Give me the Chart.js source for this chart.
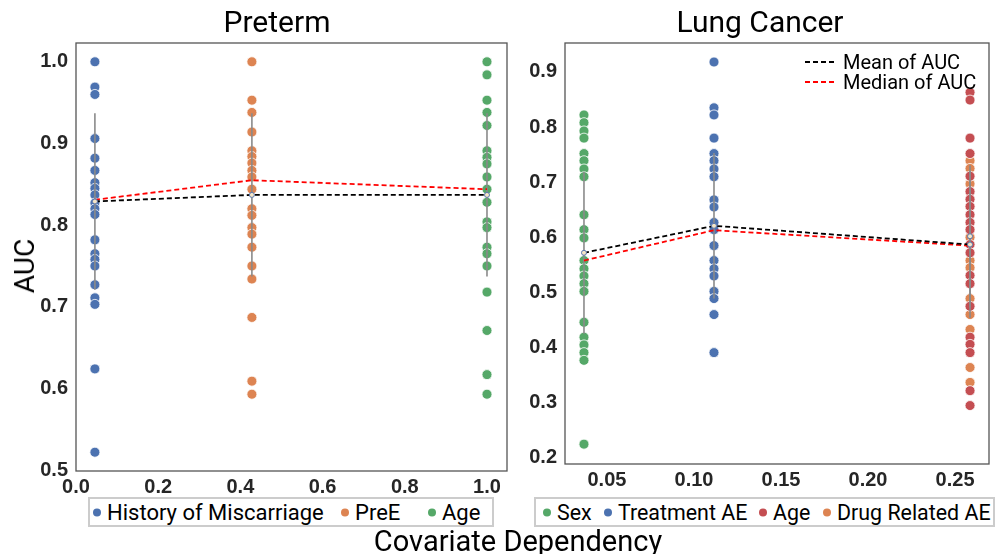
<!DOCTYPE html>
<html>
<head>
<meta charset="utf-8">
<script src="https://cdn.jsdelivr.net/npm/chart.js@4.4.1/dist/chart.umd.min.js"></script>
<style>
  html, body { margin: 0; padding: 0; background: #fff; }
  #wrap { position: relative; width: 997px; height: 554px; overflow: hidden; font-family: Roboto, sans-serif; color: #000; }
  canvas { position: absolute; top: 0; }
  .txt { position: absolute; line-height: 1; white-space: nowrap; }
  .legend { position: absolute; border: 2px solid #cccccc; box-sizing: border-box; font-size: 22px; height: 30px; background: #fff; }
  .legend .item { position: absolute; top: 50%; transform: translateY(-50%); display: flex; align-items: center; white-space: nowrap; }
  .dot { width: 8px; height: 8px; border-radius: 50%; margin-right: 6px; display: inline-block; }
  #legendPreterm .item:nth-child(1) { left: 3px; }
  #legendPreterm .item:nth-child(2) { left: 251px; }
  #legendPreterm .item:nth-child(3) { left: 338px; }
  #legendLung { font-size: 21.4px; }
  #legendLung .item:nth-child(1) { left: 7px; }
  #legendLung .item:nth-child(2) { left: 68px; }
  #legendLung .item:nth-child(3) { left: 223px; }
  #legendLung .item:nth-child(4) { left: 287px; }
  .statkey { position: absolute; font-size: 20px; line-height: 20px; }
  .statkey .row { display: flex; align-items: center; height: 20px; }
  .dash { width: 32px; height: 2px; margin-right: 6px; }
</style>
</head>
<body>
<div id="wrap">
  <canvas id="graficoPreterm" width="520" height="554" style="left:0"></canvas>
  <canvas id="graficoLung" width="477" height="554" style="left:520px"></canvas>

  <div class="txt" style="left:277px; top:7px; font-size:30px; transform:translateX(-50%)">Preterm</div>
  <div class="txt" style="left:760px; top:7px; font-size:30px; transform:translateX(-50%)">Lung Cancer</div>
  <div class="txt" style="left:25px; top:266px; font-size:28px; transform:translate(-50%,-50%) rotate(-90deg)">AUC</div>
  <div class="txt" style="left:518px; top:527px; font-size:29px; transform:translateX(-50%)">Covariate Dependency</div>

  <div class="legend" id="legendPreterm" style="left:88px; top:497px; width:406px"></div>
  <div class="legend" id="legendLung" style="left:534px; top:497px; width:461px"></div>

  <div class="statkey" style="left:805px; top:52px">
    <div class="row"><span class="dash" style="background:repeating-linear-gradient(to right,#000 0 5px,transparent 5px 8px)"></span>Mean of AUC</div>
    <div class="row"><span class="dash" style="background:repeating-linear-gradient(to right,#ff0000 0 5px,transparent 5px 8px)"></span>Median of AUC</div>
  </div>
</div>

<script>
// Preterm: AUC por covariável, posicionada pela dependência
const pretermNomes = ["History of Miscarriage", "PreE", "Age"];
const pretermCores = ["#4c72b0", "#dd8452", "#55a868"];
const pretermDep = [0.046, 0.428, 1.0];
const pretermHistory = [1.0, 0.969, 0.960, 0.906, 0.882, 0.867, 0.852, 0.845, 0.837, 0.827, 0.820, 0.813,
                        0.782, 0.765, 0.758, 0.750, 0.727, 0.711, 0.703, 0.624, 0.522];
const pretermPreE = [1.0, 0.953, 0.938, 0.914, 0.891, 0.884, 0.876, 0.867, 0.859, 0.844, 0.820, 0.812,
                     0.797, 0.789, 0.773, 0.750, 0.734, 0.687, 0.609, 0.593];
const pretermAge = [1.0, 0.984, 0.953, 0.938, 0.922, 0.891, 0.883, 0.875, 0.859, 0.844, 0.828, 0.804,
                    0.797, 0.773, 0.765, 0.750, 0.718, 0.671, 0.617, 0.593];
const pretermMediaSerie = [0.829, 0.837, 0.837];
const pretermDesvio = [0.108, 0.100, 0.100];
const pretermMean = [0.829, 0.837, 0.837];
const pretermMedian = [0.831, 0.855, 0.844];
const pretermXTicks = [0.0, 0.2, 0.4, 0.6, 0.8, 1.0];
const pretermYTicks = [0.5, 0.6, 0.7, 0.8, 0.9, 1.0];

// Lung Cancer
const lungNomes = ["Sex", "Treatment AE", "Age", "Drug Related AE"];
const lungCores = ["#55a868", "#4c72b0", "#c44e52", "#dd8452"];
const lungDep = [0.0368, 0.1115, 0.2586, 0.2586];
const lungSex = [0.822, 0.808, 0.793, 0.780, 0.752, 0.739, 0.724, 0.710, 0.641, 0.614, 0.599, 0.558,
                 0.543, 0.530, 0.516, 0.502, 0.446, 0.419, 0.405, 0.391, 0.377, 0.225];
const lungTreatment = [0.918, 0.835, 0.822, 0.780, 0.752, 0.739, 0.724, 0.710, 0.668, 0.655, 0.627, 0.614,
                       0.585, 0.558, 0.543, 0.530, 0.502, 0.489, 0.460, 0.391];
const lungAge = [0.863, 0.849, 0.780, 0.752, 0.711, 0.683, 0.669, 0.656, 0.641, 0.627, 0.614, 0.587,
                 0.572, 0.531, 0.516, 0.475, 0.419, 0.406, 0.391, 0.322, 0.295];
const lungDrug = [0.739, 0.725, 0.697, 0.683, 0.656, 0.627, 0.600, 0.558, 0.545, 0.489, 0.460, 0.433,
                  0.364, 0.337];
const lungMediaSerie = [0.572, 0.621, 0.587, 0.602];
const lungDesvio = [0.147, 0.132, 0.133, 0.129];
const lungGrupoDep = [0.0368, 0.1115, 0.2586];
const lungMean = [0.572, 0.621, 0.587];
const lungMedian = [0.558, 0.613, 0.585];
const lungXTicks = [0.05, 0.10, 0.15, 0.20, 0.25];
const lungYTicks = [0.2, 0.3, 0.4, 0.5, 0.6, 0.7, 0.8, 0.9];


// moldura em volta da área do gráfico
const moldura = {
    id: "moldura",
    afterDraw(chart) {
        const a = chart.chartArea, ctx = chart.ctx;
        ctx.save();
        ctx.strokeStyle = "#555555";
        ctx.lineWidth = 1.3;
        ctx.strokeRect(a.left, a.top, a.right - a.left, a.bottom - a.top);
        ctx.restore();
    }
};

function pontos(valores, x, cor, ordem) {
    return {
        data: valores.map(v => ({ x: x, y: v })),
        backgroundColor: cor,
        borderColor: "#ffffff",
        borderWidth: 0.8,
        pointRadius: 5,
        order: ordem
    };
}

function barras(xs, medias, desvios) {
    return xs.map((x, i) => ({
        data: [{ x: x, y: medias[i] - desvios[i] }, { x: x, y: medias[i] + desvios[i] }],
        showLine: true,
        borderColor: "#8a8a8a",
        borderWidth: 1.6,
        pointRadius: 0,
        order: 3
    }));
}

function linha(xs, valores, cor) {
    return {
        data: xs.map((x, i) => ({ x: x, y: valores[i] })),
        showLine: true,
        borderColor: cor,
        borderWidth: 1.8,
        borderDash: [5, 3],
        pointRadius: 0,
        tension: 0,
        order: 2
    };
}

function marcadores(xs, medias) {
    return {
        data: xs.map((x, i) => ({ x: x, y: medias[i] })),
        backgroundColor: "#f6e6c6",
        borderColor: "#5a78b0",
        borderWidth: 1,
        pointRadius: 2.5,
        order: 0
    };
}

function eixos(xMin, xMax, xTicks, xDig, yMin, yMax, yTicks, larguraY, alturaX) {
    const fonte = { family: "'Liberation Sans', Arial, sans-serif", weight: "bold", size: 20 };
    return {
        x: {
            type: "linear", min: xMin, max: xMax,
            grid: { display: false, drawTicks: false },
            border: { display: false },
            afterBuildTicks: s => { s.ticks = xTicks.map(v => ({ value: v })); },
            afterFit: s => { s.height = alturaX; },
            ticks: { font: fonte, color: "#262626", padding: 4, maxRotation: 0, autoSkip: false,
                     callback: v => Number(v).toFixed(xDig) }
        },
        y: {
            type: "linear", min: yMin, max: yMax,
            grid: { display: false, drawTicks: false },
            border: { display: false },
            afterBuildTicks: s => { s.ticks = yTicks.map(v => ({ value: v })); },
            afterFit: s => { s.width = larguraY; },
            ticks: { font: fonte, color: "#262626", padding: 8, autoSkip: false,
                     callback: v => Number(v).toFixed(1) }
        }
    };
}

function opcoes(padRight, escalas) {
    return {
        responsive: false,
        animation: false,
        events: [],
        layout: { padding: { top: 43, right: padRight, bottom: 0, left: 0 } },
        plugins: { legend: { display: false }, tooltip: { enabled: false } },
        scales: escalas
    };
}

function legenda(id, nomes, cores) {
    const el = document.getElementById(id);
    nomes.forEach((n, i) => {
        const item = document.createElement("span");
        item.className = "item";
        item.innerHTML = '<span class="dot" style="background:' + cores[i] + '"></span>' + n;
        el.appendChild(item);
    });
}

// Gráfico: Preterm
new Chart(document.getElementById("graficoPreterm"), {
    type: "scatter",
    data: {
        datasets: [
            pontos(pretermHistory, pretermDep[0], pretermCores[0], 5),
            pontos(pretermPreE, pretermDep[1], pretermCores[1], 5),
            pontos(pretermAge, pretermDep[2], pretermCores[2], 5),
            ...barras(pretermDep, pretermMediaSerie, pretermDesvio),
            linha(pretermDep, pretermMean, "#000000"),
            linha(pretermDep, pretermMedian, "#ff0000"),
            marcadores(pretermDep, pretermMediaSerie)
        ]
    },
    options: opcoes(13, eixos(0, 1.0487, pretermXTicks, 1, 0.499, 1.023, pretermYTicks, 76, 83)),
    plugins: [moldura]
});

// Gráfico: Lung Cancer
new Chart(document.getElementById("graficoLung"), {
    type: "scatter",
    data: {
        datasets: [
            pontos(lungSex, lungDep[0], lungCores[0], 5),
            pontos(lungTreatment, lungDep[1], lungCores[1], 5),
            pontos(lungAge, lungDep[2], lungCores[2], 4),
            pontos(lungDrug, lungDep[3], lungCores[3], 6),
            ...barras(lungDep, lungMediaSerie, lungDesvio),
            linha(lungGrupoDep, lungMean, "#000000"),
            linha(lungGrupoDep, lungMedian, "#ff0000"),
            marcadores(lungDep, lungMediaSerie)
        ]
    },
    options: opcoes(8, eixos(0.0259, 0.2695, lungXTicks, 2, 0.189, 0.9525, lungYTicks, 45, 90)),
    plugins: [moldura]
});

legenda("legendPreterm", pretermNomes, pretermCores);
legenda("legendLung", lungNomes, lungCores);
</script>
</body>
</html>
